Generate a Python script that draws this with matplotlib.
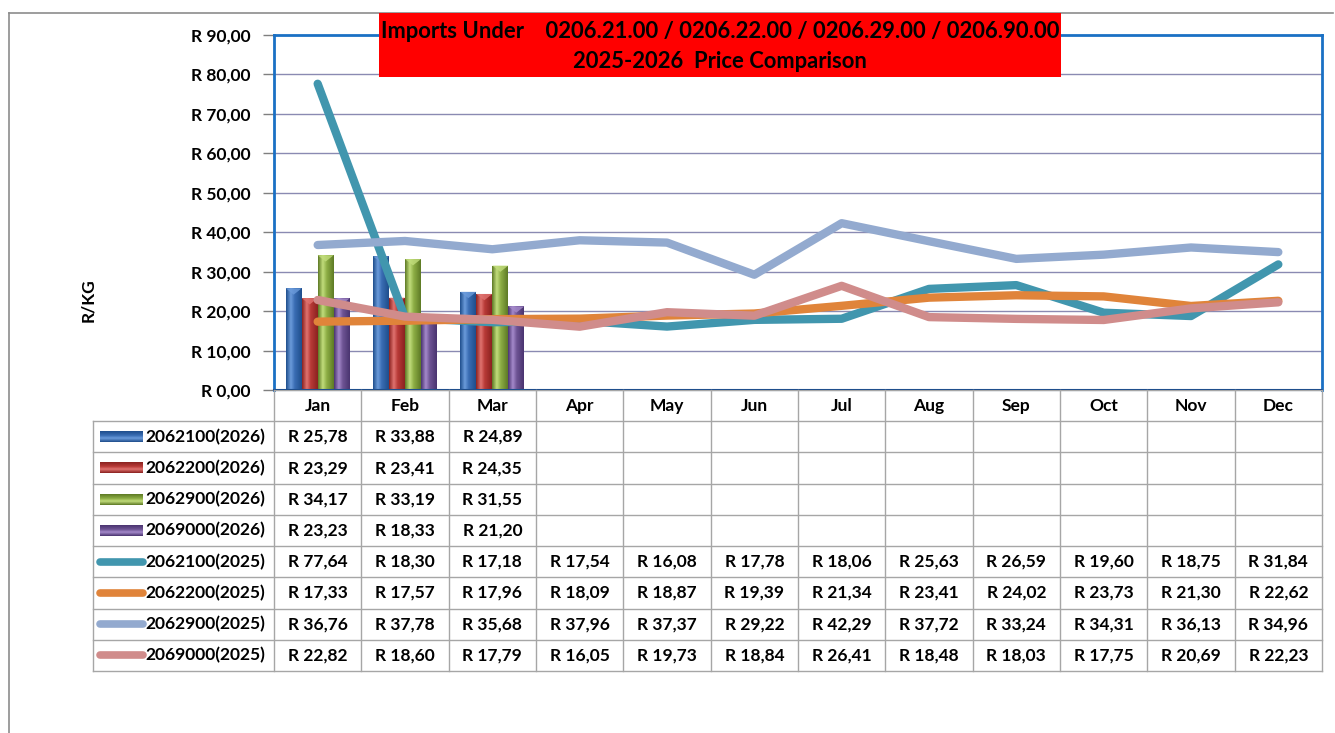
import numpy as np
import matplotlib
matplotlib.use("Agg")
import matplotlib.pyplot as plt
from matplotlib.patches import Rectangle, Polygon
from matplotlib.lines import Line2D
from matplotlib.colors import LinearSegmentedColormap

plt.rcParams['font.family'] = ['Lato', 'DejaVu Sans']

months = ['Jan', 'Feb', 'Mar', 'Apr', 'May', 'Jun', 'Jul', 'Aug', 'Sep', 'Oct', 'Nov', 'Dec']

bar_names = ['2062100(2026)', '2062200(2026)', '2062900(2026)', '2069000(2026)']
bar_2062100_2026 = [25.78, 33.88, 24.89]
bar_2062200_2026 = [23.29, 23.41, 24.35]
bar_2062900_2026 = [34.17, 33.19, 31.55]
bar_2069000_2026 = [23.23, 18.33, 21.20]

line_names = ['2062100(2025)', '2062200(2025)', '2062900(2025)', '2069000(2025)']
line_2062100_2025 = [77.64, 18.30, 17.18, 17.54, 16.08, 17.78, 18.06, 25.63, 26.59, 19.60, 18.75, 31.84]
line_2062200_2025 = [17.33, 17.57, 17.96, 18.09, 18.87, 19.39, 21.34, 23.41, 24.02, 23.73, 21.30, 22.62]
line_2062900_2025 = [36.76, 37.78, 35.68, 37.96, 37.37, 29.22, 42.29, 37.72, 33.24, 34.31, 36.13, 34.96]
line_2069000_2025 = [22.82, 18.60, 17.79, 16.05, 19.73, 18.84, 26.41, 18.48, 18.03, 17.75, 20.69, 22.23]

y_ticks = [0, 10, 20, 30, 40, 50, 60, 70, 80, 90]
title_line1 = 'Imports Under    0206.21.00 / 0206.22.00 / 0206.29.00 / 0206.90.00'
title_line2 = '2025-2026  Price Comparison'
y_label = 'R/KG'

bar_series = [bar_2062100_2026, bar_2062200_2026, bar_2062900_2026, bar_2069000_2026]
line_series = [line_2062100_2025, line_2062200_2025, line_2062900_2025, line_2069000_2025]

# (dark, light, mid) colours for shaded bars
bar_colors = [('#1F4E8C', '#6B9BDB', '#3A6DB3'),
              ('#8B2220', '#E07370', '#B83A37'),
              ('#5E7A25', '#C2DD7C', '#8DAE45'),
              ('#4A3470', '#A58ACB', '#6E5494')]
line_colors = ['#4196AE', '#E0843A', '#93AACF', '#D08C8B']

FS = 12.5
W, H = 1335, 733
fig = plt.figure(figsize=(W / 100, H / 100), dpi=100)

def fx(px):
    return px / W

def fy(py):
    return 1 - py / H

# outer frame
fig.add_artist(Line2D([fx(9), fx(1333)], [fy(13), fy(13)], color='#8C8C8C', lw=1.2))
fig.add_artist(Line2D([fx(9), fx(9)], [fy(13), fy(733)], color='#8C8C8C', lw=1.2))

PL, PR, PT, PB = 274, 1322, 35, 390
ax = fig.add_axes([fx(PL), fy(PB), fx(PR - PL), (PB - PT) / H])
n = len(months)
x = np.arange(n)

def shaded_bar(ax, x0, w, h, cols):
    dark, light, mid = cols
    cmap = LinearSegmentedColormap.from_list('b', [(0, dark), (0.3, light), (0.55, mid), (1, dark)])
    grad = np.linspace(0, 1, 64).reshape(1, -1)
    im = ax.imshow(grad, extent=(x0, x0 + w, 0, h), cmap=cmap, aspect='auto',
                   interpolation='bilinear', zorder=2, origin='lower')
    rect = Rectangle((x0, 0), w, h, transform=ax.transData, facecolor='none', edgecolor='none')
    ax.add_patch(rect)
    im.set_clip_path(rect)
    cap = Polygon([(x0, h), (x0 + w, h), (x0 + w / 2, h - 1.6)], closed=True,
                  facecolor=light, edgecolor='none', alpha=0.8, zorder=2.1)
    ax.add_patch(cap)

bw = 0.183
for i, (vals, cols) in enumerate(zip(bar_series, bar_colors)):
    for j, v in enumerate(vals):
        x0 = j - 2 * bw + i * bw
        shaded_bar(ax, x0, bw, v, cols)

order = [2, 1, 3, 0]
for k in order:
    ax.plot(x, line_series[k], color=line_colors[k], lw=6, solid_capstyle='round',
            solid_joinstyle='round', zorder=3 + k * 0.1)

ax.set_xlim(-0.5, n - 0.5)
ax.set_ylim(0, 90)
ax.set_yticks(y_ticks)
ax.set_yticklabels(['R {:d},00'.format(t) for t in y_ticks], fontsize=FS, fontweight='bold')
ax.set_xticks([])
for t in y_ticks[1:-1]:
    ax.axhline(t, color='#8A8AB2', lw=1.0, zorder=1)
ax.tick_params(axis='y', length=8, width=1, color='#7F7F7F', pad=9)
for s in ['top', 'left', 'right']:
    ax.spines[s].set_color('#1A70C4')
    ax.spines[s].set_linewidth(2)
ax.spines['bottom'].set_color('#1F4E8C')
ax.spines['bottom'].set_linewidth(1.5)
ax.set_facecolor('white')

fig.text(fx(88), fy(300), y_label, rotation=90, ha='center', va='center',
         fontsize=FS, fontweight='bold')

# title
fig.add_artist(Rectangle((fx(379), fy(77)), fx(1061 - 379), (77 - 13) / H,
                         facecolor='#FF0000', edgecolor='none', zorder=5))
fig.text(fx(720), fy(32), title_line1, ha='center', va='center', fontsize=15.8,
         fontweight='bold', zorder=6)
fig.text(fx(720), fy(61), title_line2, ha='center', va='center', fontsize=15.8,
         fontweight='bold', zorder=6)

# data table
TL, TT, TB = 93, 390, 671
unit = (PR - PL) / n
axt = fig.add_axes([fx(TL), fy(TB), fx(PR - TL), (TB - TT) / H])
x_left = -0.5 - (PL - TL) / unit
axt.set_xlim(x_left, n - 0.5)
nrows = 9
axt.set_ylim(nrows, 0)
axt.axis('off')
gc = '#A6A6A6'
axt.plot([-0.5, n - 0.5], [0, 0], color=gc, lw=1)
for r in range(1, nrows + 1):
    axt.plot([x_left, n - 0.5], [r, r], color=gc, lw=1, clip_on=False)
for c in range(n + 1):
    axt.plot([c - 0.5, c - 0.5], [0, nrows], color=gc, lw=1, clip_on=False)
axt.plot([x_left, x_left], [1, nrows], color=gc, lw=1, clip_on=False)

for j, m in enumerate(months):
    axt.text(j, 0.5, m, ha='center', va='center', fontsize=FS, fontweight='bold')

def fmt(v):
    return 'R {:.2f}'.format(v).replace('.', ',')

all_names = bar_names + line_names
all_vals = bar_series + line_series
for r, (name, vals) in enumerate(zip(all_names, all_vals)):
    yy = r + 1.5
    axt.text(x_left + (145 - TL) / unit, yy, name, ha='left', va='center', fontsize=FS,
             fontweight='bold')
    for j, v in enumerate(vals):
        axt.text(j, yy, fmt(v), ha='center', va='center', fontsize=FS, fontweight='bold')
    if r < 4:
        x0 = x_left + (100 - TL) / unit
        w = 43 / unit
        dark, light, mid = bar_colors[r]
        cmap = LinearSegmentedColormap.from_list('b', [(0, dark), (0.35, light), (0.6, mid), (1, dark)])
        grad = np.linspace(0, 1, 32).reshape(-1, 1)
        axt.imshow(grad, extent=(x0, x0 + w, yy - 0.17, yy + 0.17), cmap=cmap,
                   aspect='auto', interpolation='bilinear', zorder=2, origin='upper')
    else:
        k = r - 4
        axt.plot([x_left + (100 - TL) / unit, x_left + (143 - TL) / unit], [yy, yy],
                 color=line_colors[k], lw=5.5, solid_capstyle='round')
axt.set_xlim(x_left, n - 0.5)
axt.set_ylim(nrows, 0)

fig.savefig('out.png', dpi=100, facecolor='white')
